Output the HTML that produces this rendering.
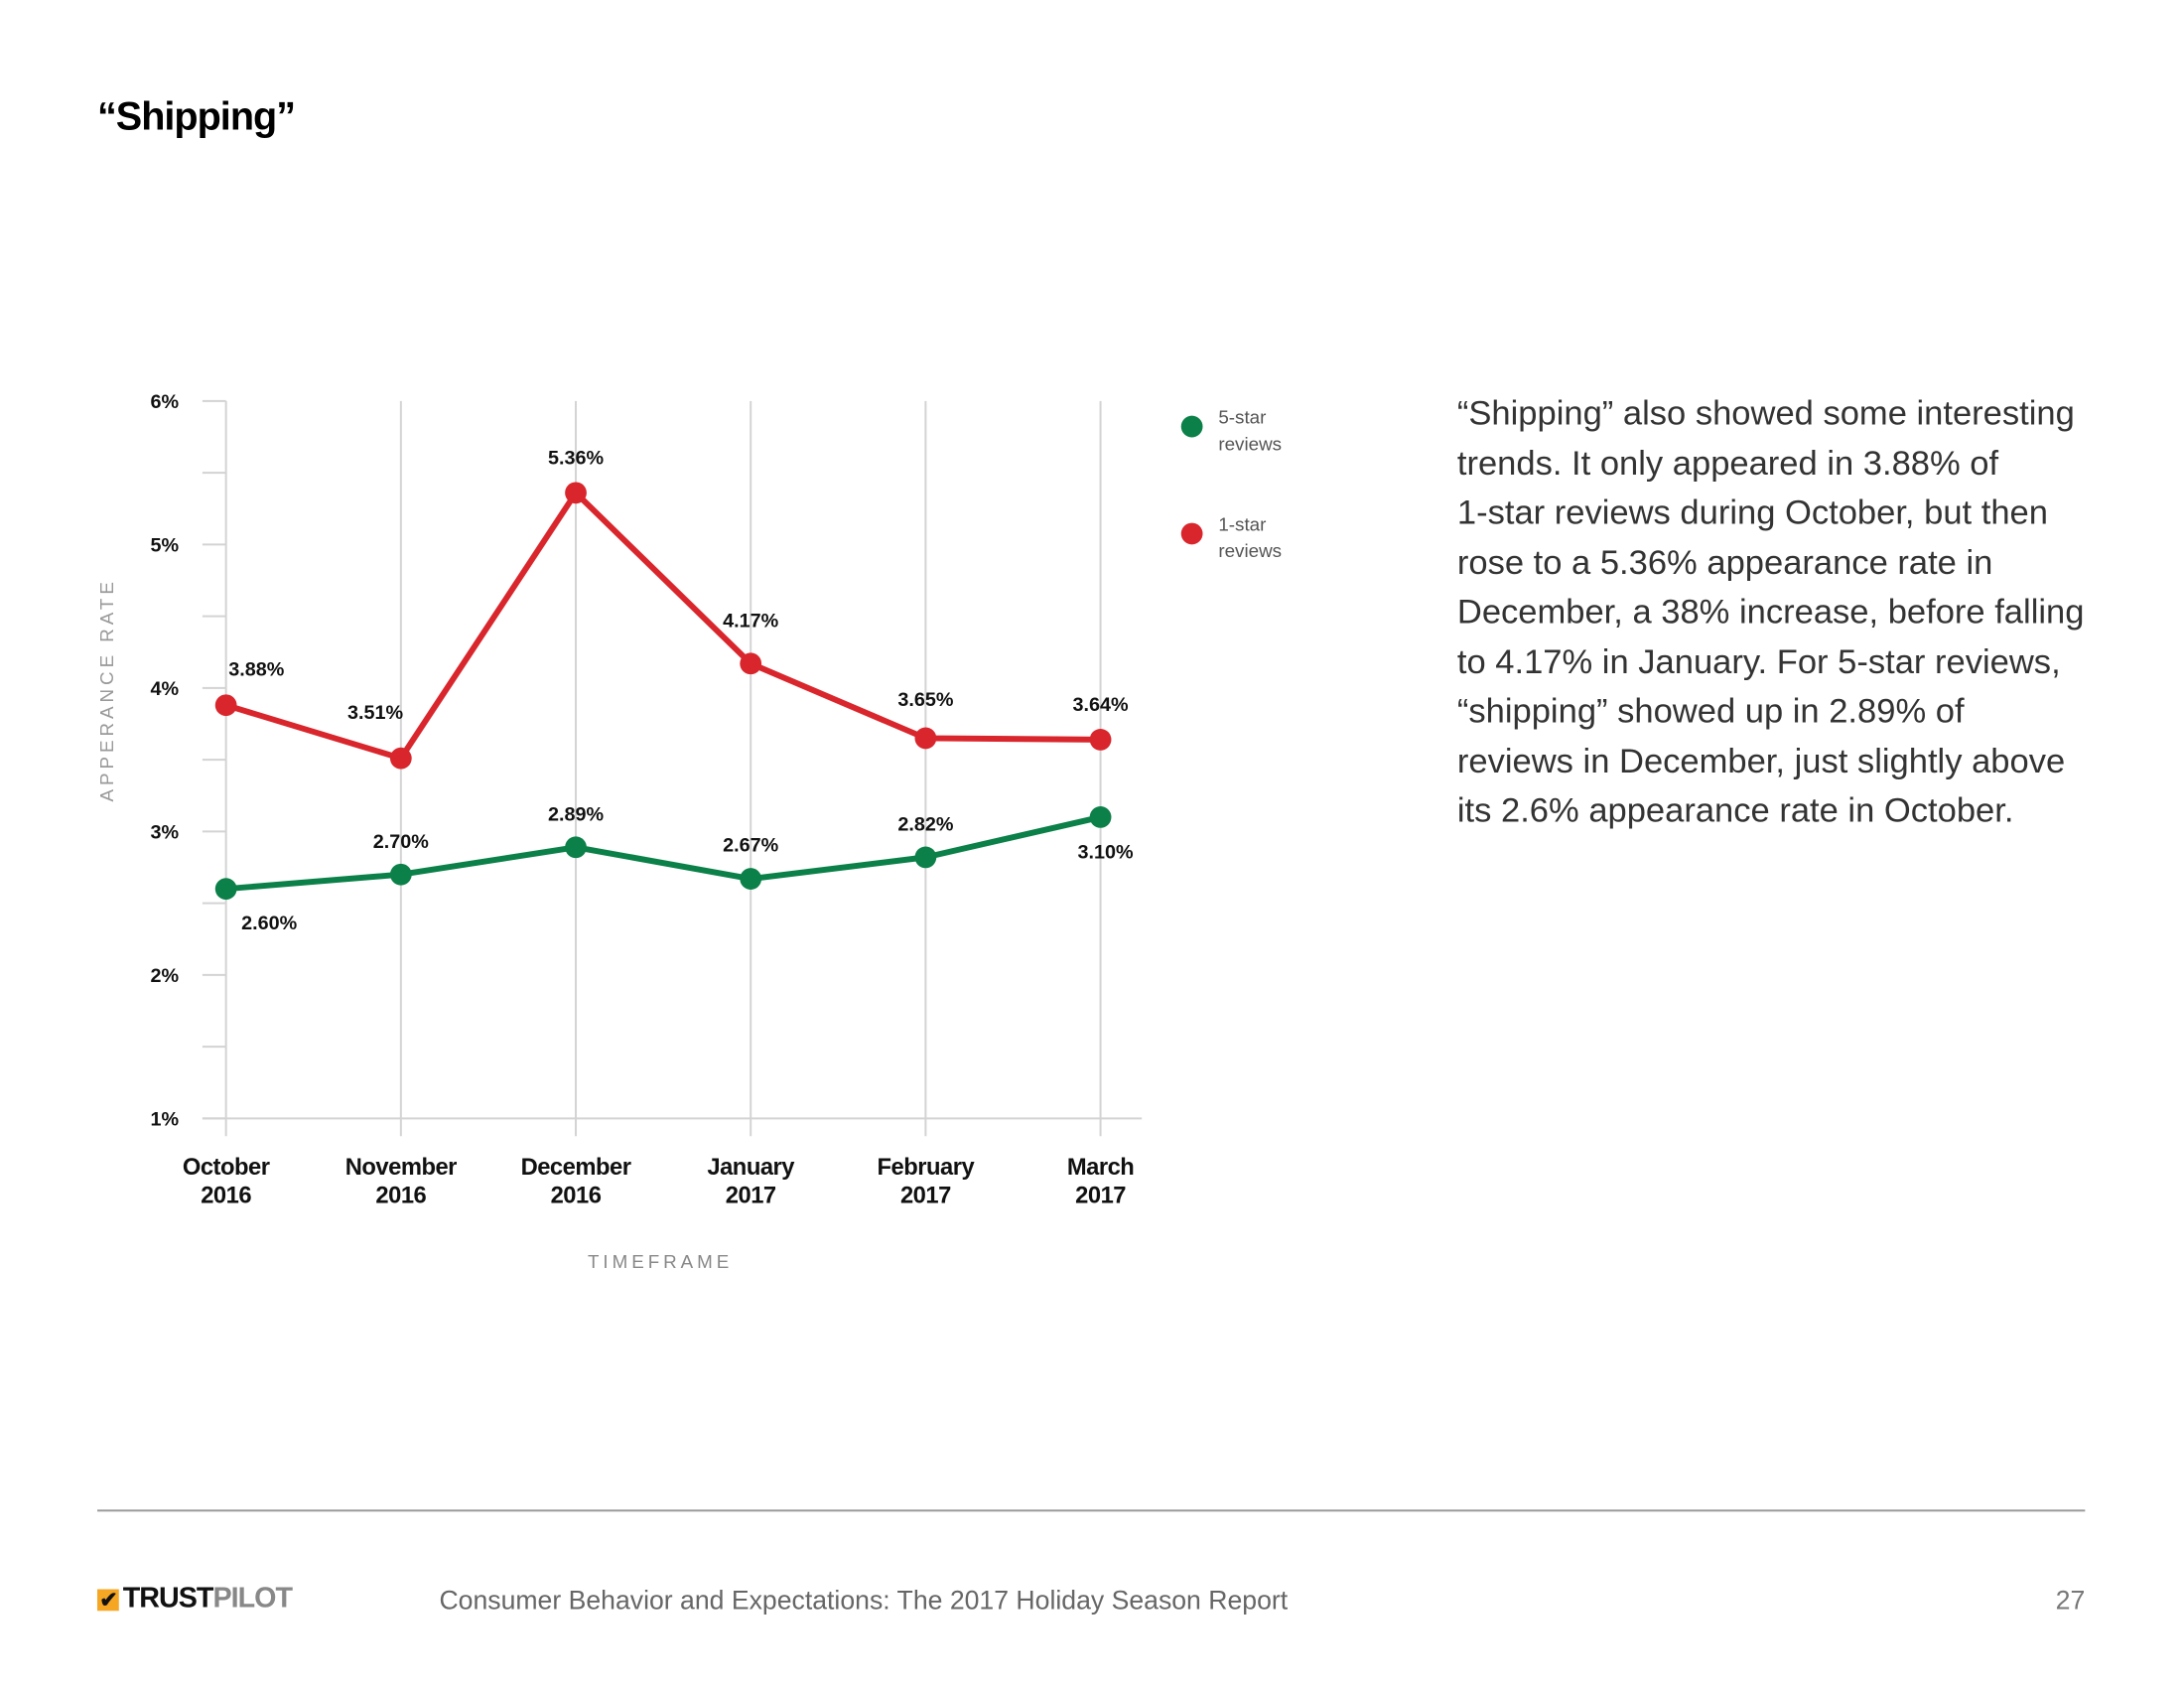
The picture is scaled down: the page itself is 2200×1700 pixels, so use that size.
<!DOCTYPE html>
<html><head><meta charset="utf-8">
<style>
body{margin:0;width:2200px;height:1700px;background:#fff;position:relative;overflow:hidden;font-family:"Liberation Sans",sans-serif;}
#wrap{position:absolute;left:0;top:0;width:2200px;height:1700px;transform:scale(0.9898);transform-origin:0 0;}
.abs{position:absolute;}
#title{left:99px;top:97px;font-size:40px;font-weight:bold;color:#000;letter-spacing:-1px;}
#para{left:1483px;top:396px;font-size:34.9px;line-height:50.5px;color:#333;white-space:nowrap;}
#rule{left:99px;top:1536px;width:2023px;height:2px;background:#999;}
#foot{left:447px;top:1613px;font-size:26.9px;color:#666;}
#pg{left:2080px;top:1613px;width:42px;text-align:right;font-size:27px;color:#777;}
#logo{left:99px;top:1610px;font-size:29px;font-weight:bold;color:#111;letter-spacing:-1px;}
</style></head><body>
<div id="wrap">
<div id="title" class="abs">“Shipping”</div>
<svg id="chart" class="abs" style="left:0;top:0" width="2200" height="1450"></svg>
<div id="para" class="abs">“Shipping” also showed some interesting<br>trends. It only appeared in 3.88% of<br>1-star reviews during October, but then<br>rose to a 5.36% appearance rate in<br>December, a 38% increase, before falling<br>to 4.17% in January. For 5-star reviews,<br>“shipping” showed up in 2.89% of<br>reviews in December, just slightly above<br>its 2.6% appearance rate in October.</div>
<div id="rule" class="abs"></div>
<div id="logo" class="abs"><span style="display:inline-block;width:22px;height:22px;background:#f5a623;color:#111;font-size:22px;line-height:22px;text-align:center;margin-right:4px;">✔</span>TRUST<span style="color:#888">PILOT</span></div>
<div id="foot" class="abs">Consumer Behavior and Expectations: The 2017 Holiday Season Report</div>
<div id="pg" class="abs">27</div>
</div>
<script>
const categories=["October|2016","November|2016","December|2016","January|2017","February|2017","March|2017"];
const oneStar=[3.88,3.51,5.36,4.17,3.65,3.64];
const fiveStar=[2.60,2.70,2.89,2.67,2.82,3.10];
const yTicks=[1,2,3,4,5,6];
const oneStarOff=[[31,-37],[-26,-47],[0,-36],[0,-44],[0,-40],[0,-36]];
const fiveStarOff=[[44,34],[0,-34],[0,-34],[0,-35],[0,-34],[5,35]];

const svg=document.getElementById('chart');
const NS='http://www.w3.org/2000/svg';
const X0=230,X1=1120,YB=1138,PER=146;
function xs(i){return X0+i*(X1-X0)/(categories.length-1);}
function ys(v){return YB-(v-1)*PER;}
function mk(t,a){const e=document.createElementNS(NS,t);for(const k in a)e.setAttribute(k,a[k]);svg.appendChild(e);return e;}

for(let i=0;i<categories.length;i++){
  const g=mk('line',{x1:xs(i),x2:xs(i),y1:ys(6),y2:YB+18,stroke:'#d3d3d3','stroke-width':2});
  
  
}
for(let v=1;v<=6;v+=0.5){
  const t=mk('line',{x1:206,x2:230,y1:ys(v),y2:ys(v),stroke:'#d3d3d3','stroke-width':2});
  
  
}
const ax=mk('line',{x1:206,x2:1162,y1:YB,y2:YB,stroke:'#d3d3d3','stroke-width':2});


yTicks.forEach(v=>{
  const t=mk('text',{x:182,y:ys(v)+7,'text-anchor':'end','font-size':20,'font-weight':'bold',fill:'#111'});
  t.textContent=v+'%';
  
  
});
categories.forEach((c,i)=>{
  const p=c.split('|');
  const t=mk('text',{x:xs(i),y:1195,'text-anchor':'middle','font-size':24,'font-weight':'bold',fill:'#111','letter-spacing':'-0.5'});
  
  
  const a=document.createElementNS(NS,'tspan');a.setAttribute('x',xs(i));a.textContent=p[0];t.appendChild(a);
  const b=document.createElementNS(NS,'tspan');b.setAttribute('x',xs(i));b.setAttribute('dy','29');b.textContent=p[1];t.appendChild(b);
});
const xt=mk('text',{x:672,y:1290,'text-anchor':'middle','font-size':19,fill:'#888','letter-spacing':'4'});
xt.textContent='TIMEFRAME';


const yt=mk('text',{x:0,y:0,'text-anchor':'middle','font-size':19,fill:'#999','letter-spacing':'4',transform:'translate(115,702) rotate(-90)'});
yt.textContent='APPERANCE RATE';



function series(vals,off,color,name){
  const pl=mk('polyline',{points:vals.map((v,i)=>xs(i)+','+ys(v)).join(' '),fill:'none',stroke:color,'stroke-width':6,'stroke-linejoin':'round'});
  
  
  vals.forEach((v,i)=>{
    const c=mk('circle',{cx:xs(i),cy:ys(v),r:11,fill:color});
    
    
    const t=mk('text',{x:xs(i)+off[i][0],y:ys(v)+off[i][1]+7,'text-anchor':'middle','font-size':20,'font-weight':'bold',fill:'#111'});
    t.textContent=v.toFixed(2)+'%';
    
    
  });
}
series(oneStar,oneStarOff,'#d9262c','one-star');
series(fiveStar,fiveStarOff,'#0b8048','five-star');

[['5-star','#0b8048',434,'legend-five-star'],['1-star','#d9262c',543,'legend-one-star']].forEach(l=>{
  const c=mk('circle',{cx:1213,cy:l[2],r:11,fill:l[1]});
  
  
  const t=mk('text',{x:1240,y:l[2]-3,'font-size':19,fill:'#555'});
  
  
  const a=document.createElementNS(NS,'tspan');a.setAttribute('x',1240);a.textContent=l[0];t.appendChild(a);
  const b=document.createElementNS(NS,'tspan');b.setAttribute('x',1240);b.setAttribute('dy','27');b.textContent='reviews';t.appendChild(b);
});
</script>
</body></html>
